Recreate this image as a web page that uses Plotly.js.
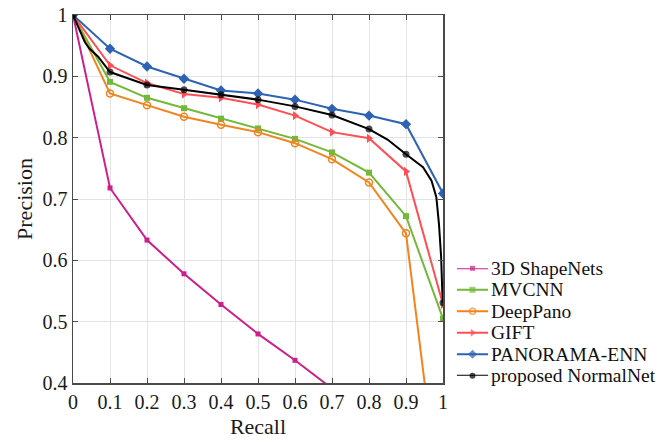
<!DOCTYPE html>
<html>
<head>
<meta charset="utf-8">
<script src="https://cdn.plot.ly/plotly-3.0.1.min.js"></script>
<style>html,body{margin:0;padding:0;background:#fff;}#chart{width:670px;height:442px;}</style>
</head>
<body>
<div id="chart"></div>
<script>
// Recall levels
const recall = [0, 0.1, 0.2, 0.3, 0.4, 0.5, 0.6, 0.7, 0.8, 0.9, 1.0];

// Precision values per method
const shapeNets = [1.0, 0.718, 0.633, 0.578, 0.528, 0.480, 0.437, 0.391, 0.35, 0.31, 0.27];
const mvcnn     = [1.0, 0.891, 0.865, 0.848, 0.831, 0.815, 0.798, 0.776, 0.743, 0.672, 0.505];
const deepPano  = [1.0, 0.872, 0.853, 0.834, 0.821, 0.809, 0.791, 0.765, 0.727, 0.644, 0.16];
const gift      = [1.0, 0.918, 0.889, 0.871, 0.865, 0.854, 0.836, 0.809, 0.799, 0.745, 0.528];
const panorama  = [1.0, 0.945, 0.916, 0.896, 0.877, 0.872, 0.862, 0.847, 0.836, 0.822, 0.709];

// NormalNet: smooth curve (read densely) with markers at recall tenths
const normalNetRecall    = [0, 0.032, 0.045, 0.068, 0.1, 0.2, 0.3, 0.4, 0.5, 0.6, 0.7, 0.8, 0.85, 0.9, 0.946, 0.969, 0.982, 0.989, 0.995, 0.998, 1.0];
const normalNetPrecision = [1.0, 0.956, 0.945, 0.932, 0.907, 0.886, 0.878, 0.870, 0.862, 0.851, 0.837, 0.814, 0.797, 0.773, 0.752, 0.730, 0.703, 0.660, 0.605, 0.550, 0.531];

const names = ['3D ShapeNets', 'MVCNN', 'DeepPano', 'GIFT', 'PANORAMA-ENN', 'proposed NormalNet'];
const colors = ['#cc1f8c', '#74b83a', '#f0841e', '#ff4f55', '#2e63b4', '#000000'];
const symbols = ['square', 'square', 'circle-open', 'triangle-right', 'diamond', 'circle'];
const sizes = [5, 6, 7, 8, 8, 7];
const legendSizes = [5, 6, 6, 7, 7, 6];

const tickVals = [0, 0.1, 0.2, 0.3, 0.4, 0.5, 0.6, 0.7, 0.8, 0.9, 1];
const tickText = ['0', '0.1', '0.2', '0.3', '0.4', '0.5', '0.6', '0.7', '0.8', '0.9', '1'];
const yTickVals = [0.4, 0.5, 0.6, 0.7, 0.8, 0.9, 1];
const yTickText = ['0.4', '0.5', '0.6', '0.7', '0.8', '0.9', '1'];

const isTenth = v => Math.abs(v * 10 - Math.round(v * 10)) < 1e-9;
const font = 'Liberation Serif, serif';

const seriesX = [recall, recall, recall, recall, recall, normalNetRecall];
const seriesY = [shapeNets, mvcnn, deepPano, gift, panorama, normalNetPrecision];

const traces = [];
seriesX.forEach((xs, i) => {
  const markerSize = (i === 5) ? xs.map(v => isTenth(v) ? sizes[i] : 0) : sizes[i];
  traces.push({
    x: xs, y: seriesY[i], name: names[i], mode: 'lines+markers', showlegend: false,
    line: {color: colors[i], width: 2},
    marker: {symbol: symbols[i], size: markerSize, color: colors[i], line: {width: symbols[i] === 'circle-open' ? 1.5 : 0, color: colors[i]}},
    xaxis: 'x', yaxis: 'y'
  });
});

// Custom legend drawn on a hidden helper axis
names.forEach((n, i) => {
  traces.push({
    x: [0, 0.5, 1], y: [i, i, i], mode: 'lines+markers', showlegend: false, hoverinfo: 'skip',
    line: {color: colors[i], width: 2},
    marker: {symbol: symbols[i], size: [0, legendSizes[i], 0], color: colors[i], line: {width: symbols[i] === 'circle-open' ? 1.5 : 0, color: colors[i]}},
    xaxis: 'x2', yaxis: 'y2', cliponaxis: false
  });
});

const W = 670 - 73;
const annotations = names.map((n, i) => ({
  text: n, xref: 'paper', yref: 'y2', x: (489.5 - 73) / W, y: i, xanchor: 'left', yanchor: 'middle',
  showarrow: false, font: {family: font, size: 19.5, color: '#111'}, borderpad: 0
}));

const layout = {
  width: 670, height: 442,
  margin: {l: 73, r: 0, t: 15, b: 59},
  paper_bgcolor: '#fff', plot_bgcolor: '#fff',
  font: {family: font, size: 19, color: '#1a1a1a'},
  showlegend: false,
  annotations: annotations,
  xaxis: {
    domain: [0, 370 / W], anchor: 'y',
    range: [0, 1], tickvals: tickVals, ticktext: tickText,
    showgrid: true, gridcolor: '#e3e3e3', gridwidth: 1,
    zeroline: false, showline: true, linecolor: '#4a4a4a', linewidth: 1.5, mirror: 'ticks',
    ticks: 'inside', ticklen: 5, tickcolor: '#4a4a4a', automargin: false,
    tickfont: {family: font, size: 20, color: '#1a1a1a'},
    title: {text: 'Recall', font: {family: font, size: 22, color: '#1a1a1a'}, standoff: 7}
  },
  yaxis: {
    domain: [0, 1], anchor: 'x',
    range: [0.4, 1], tickvals: yTickVals, ticktext: yTickText,
    showgrid: true, gridcolor: '#e3e3e3', gridwidth: 1,
    zeroline: false, showline: true, linecolor: '#4a4a4a', linewidth: 1.5, mirror: 'ticks',
    ticks: 'inside', ticklen: 5, tickcolor: '#4a4a4a', automargin: false,
    tickfont: {family: font, size: 20, color: '#1a1a1a'},
    title: {text: 'Precision', font: {family: font, size: 22, color: '#1a1a1a'}, standoff: 4}
  },
  xaxis2: {
    domain: [(456.7 - 73) / W, (488.3 - 73) / W], anchor: 'y2',
    range: [0, 1], visible: false, fixedrange: true
  },
  yaxis2: {
    domain: [(383 - 375.8) / 368, (383 - 268.3) / 368], anchor: 'x2',
    range: [5, 0], visible: false, fixedrange: true
  }
};

Plotly.newPlot('chart', traces, layout, {displayModeBar: false, staticPlot: true});
</script>
</body>
</html>
